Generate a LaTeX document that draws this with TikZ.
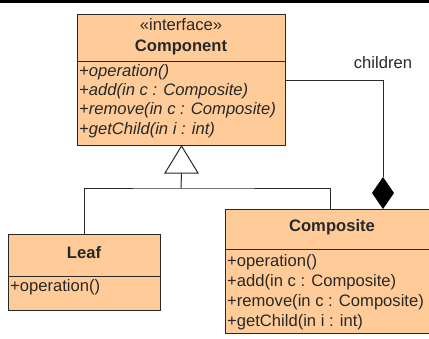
\documentclass[tikz,border=0pt]{standalone}
\usepackage{fontspec}
\setmainfont{Liberation Sans}
\definecolor{boxfill}{RGB}{255,204,153}
\definecolor{linec}{RGB}{40,40,40}
\begin{document}
\begin{tikzpicture}[x=1pt,y=-1pt,
  cls/.style={draw=linec, fill=boxfill, line width=1pt, inner sep=0pt, anchor=north west},
  conn/.style={draw=linec, line width=1pt},
  txt/.style={inner sep=0pt, text=linec, font=\fontsize{16.6}{19}\selectfont},
  op/.style={txt, anchor=west},
  iop/.style={txt, anchor=west, font=\fontsize{16.6}{19}\selectfont\itshape},
  title/.style={txt, font=\fontsize{16.6}{19}\selectfont\bfseries}]
\useasboundingbox (0,0) rectangle (429,338);
\fill[black] (0,0) rectangle (429,2.5);
% Component
\node[cls, minimum width=208pt, minimum height=131pt] (comp) at (77,14) {};
\draw[conn] (77,61) -- (285,61);
\node[txt] (stereo) at (181,25) {«interface»};
\node[title] (compname) at (181,47) {Component};
\node[iop] (c1) at (79,72) {+operation()};
\node[iop] (c2) at (79,91) {+add(in c : Composite)};
\node[iop] (c3) at (79,110) {+remove(in c : Composite)};
\node[iop] (c4) at (79,130) {+getChild(in i : int)};
% Leaf
\node[cls, minimum width=152pt, minimum height=76pt] (leaf) at (8,234) {};
\draw[conn] (8,276) -- (160,276);
\node[title] (leafname) at (84,253) {Leaf};
\node[op] (l1) at (10,287) {+operation()};
% Composite
\node[cls, minimum width=210pt, minimum height=124pt] (compo) at (225,209) {};
\draw[conn] (225,249) -- (435,249);
\node[title] (componame) at (332,227) {Composite};
\node[op] (k1) at (227,262) {+operation()};
\node[op] (k2) at (227,282) {+add(in c : Composite)};
\node[op] (k3) at (227,302) {+remove(in c : Composite)};
\node[op] (k4) at (227,322) {+getChild(in i : int)};
% generalization
\coordinate (apex) at (comp.south);
\coordinate (tb) at ([yshift=-27pt]comp.south);
\draw[conn, fill=white, line join=miter] (apex) -- ([xshift=-16.5pt]tb) -- ([xshift=16.5pt]tb) -- cycle;
\coordinate (bus) at (181,188);
\draw[conn] (tb) -- (bus);
\draw[conn] (leaf.north) |- (bus) -- (330,188) -- (330,209);
% aggregation
\coordinate (dtop) at (383,177);
\coordinate (dbot) at (383,209);
\draw[conn] (285,80) -| (dtop);
\fill[black] (dbot) -- (394,193) -- (dtop) -- (372,193) -- cycle;
\node[txt] (children) at (383,63) {children};
\end{tikzpicture}
\end{document}
